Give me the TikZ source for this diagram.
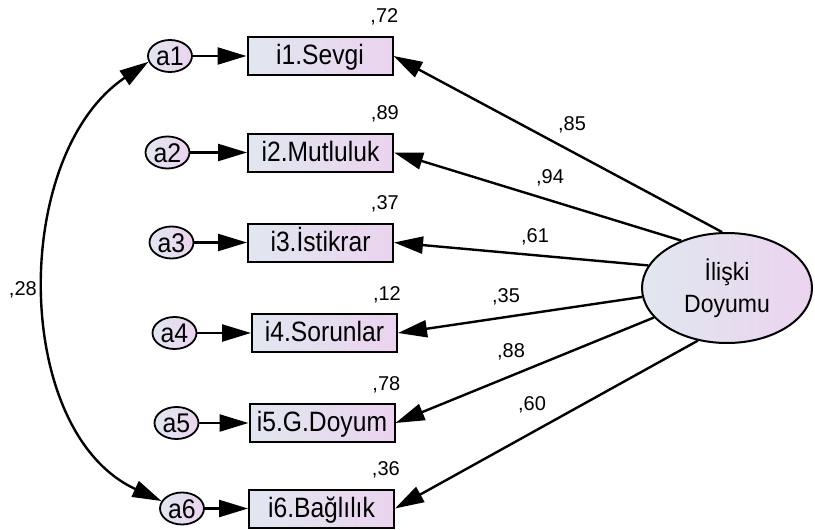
\documentclass[tikz,border=0pt]{standalone}
\usepackage{fontspec}
\setmainfont{Liberation Sans}
\newfontfamily\nf[FakeStretch=0.88]{Liberation Sans}
\newfontfamily\nl[FakeStretch=0.92]{Liberation Sans}
\usetikzlibrary{arrows.meta,shapes.geometric,calc}
\definecolor{shL}{HTML}{E1E7EF}
\definecolor{shR}{HTML}{EBD3EF}
\begin{document}
\begin{tikzpicture}[x=1pt,y=-1pt,
  obs/.style={draw=black, line width=2pt, left color=shL, right color=shR,
    minimum width=145pt, minimum height=38pt, inner sep=0pt,
    text height=20pt, text depth=3pt, font=\nf\fontsize{28}{30}\selectfont},
  err/.style={ellipse, draw=black, line width=1.8pt, left color=shL, right color=shR,
    minimum width=44pt, minimum height=32pt, inner sep=0pt,
    text height=19pt, text depth=0pt, font=\nl\fontsize{27}{29}\selectfont},
  lat/.style={ellipse, draw=black, line width=2pt, left color=shL, right color=shR,
    minimum width=170pt, minimum height=110pt, inner sep=0pt, align=center,
    font=\nl\fontsize{25}{32}\selectfont},
  lbl/.style={font=\fontsize{20}{22}\selectfont, inner sep=0pt},
  tip/.tip={Triangle[length=29pt,width=17pt]},
  pathline/.style={line width=2.4pt, -tip},
  covline/.style={line width=2.4pt, tip-tip}
]
\useasboundingbox (0,0) rectangle (815,530);
% observed variables
\node[obs] (i1) at (320,56)    {i1.Sevgi};
\node[obs] (i2) at (320.5,152.5) {i2.Mutluluk};
\node[obs] (i3) at (320.5,242.5) {i3.İstikrar};
\node[obs] (i4) at (324.5,333) {i4.Sorunlar};
\node[obs] (i5) at (322,423)   {i5.G.Doyum};
\node[obs] (i6) at (321.5,508.5) {i6.Bağlılık};
% errors
\node[err] (a1) at (170,56)    {a1};
\node[err] (a2) at (167.5,152.5) {a2};
\node[err] (a3) at (171.5,242.5) {a3};
\node[err] (a4) at (174.5,333) {a4};
\node[err] (a5) at (176.5,423) {a5};
\node[err] (a6) at (182,508.5) {a6};
% latent
\node[lat] (D) at (727,288) {İlişki\\Doyumu};
% squared multiple correlations
\node[lbl, anchor=base east] (r1) at ($(i1.north east)+(5,-13)$) {,72};
\node[lbl, anchor=base east] (r2) at ($(i2.north east)+(5,-13)$) {,89};
\node[lbl, anchor=base east] (r3) at ($(i3.north east)+(5,-13)$) {,37};
\node[lbl, anchor=base east] (r4) at ($(i4.north east)+(3,-13)$) {,12};
\node[lbl, anchor=base east] (r5) at ($(i5.north east)+(5,-13)$) {,78};
\node[lbl, anchor=base east] (r6) at ($(i6.north east)+(5,-13)$) {,36};
% error arrows
\foreach \k in {1,...,6} \draw[pathline] (a\k) -- (i\k);
% loadings
\draw[pathline] (D.95)  -- (i1.east);
\draw[pathline] (D.134) -- (i2.east);
\draw[pathline] (D.164) -- (i3.east);
\draw[pathline] (D.186) -- (i4.east);
\draw[pathline] (D.202) -- (i5.east);
\draw[pathline] (D.241) -- (i6.east);
\node[lbl] (l1) at (572,125) {,85};
\node[lbl] (l2) at (550,178) {,94};
\node[lbl] (l3) at (535,237) {,61};
\node[lbl] (l4) at (506,297) {,35};
\node[lbl] (l5) at (511,352) {,88};
\node[lbl] (l6) at (532,405) {,60};
% covariance
\draw[covline] (a6.160) .. controls +(-150,-69) and +(-138,93) .. (a1.195);
\node[lbl, anchor=east] (c) at (37,290) {,28};
\end{tikzpicture}
\end{document}
